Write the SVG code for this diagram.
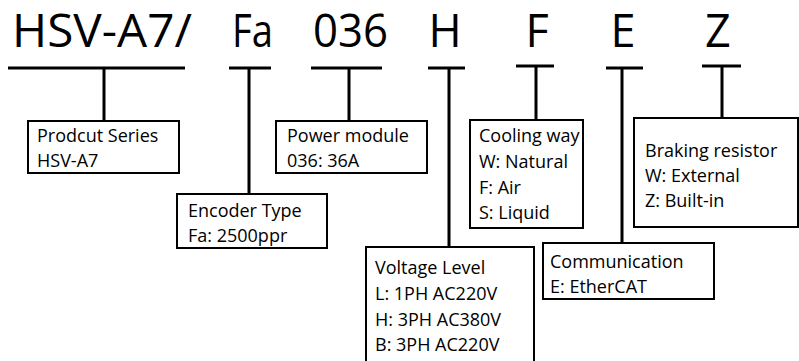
<svg xmlns="http://www.w3.org/2000/svg" width="799" height="361" viewBox="0 0 799 361">
<style>
.big{font-family:"Open Sans","Liberation Sans",sans-serif;font-size:45px;fill:#000}
.t{font-family:"Open Sans","Liberation Sans",sans-serif;font-size:18px;fill:#000}
.box{fill:#fff;stroke:#000;stroke-width:2}
.ln{stroke:#000;stroke-width:3;fill:none}
</style>
<rect width="799" height="361" fill="#fff"/>
<g id="code">
<text class="big" x="12" y="47" textLength="180" lengthAdjust="spacingAndGlyphs">HSV-A7/</text>
<text class="big" x="232" y="47" textLength="41" lengthAdjust="spacingAndGlyphs">Fa</text>
<text class="big" x="313" y="47" textLength="75" lengthAdjust="spacingAndGlyphs">036</text>
<text class="big" x="445" y="47" text-anchor="middle">H</text>
<text class="big" x="537" y="47" text-anchor="middle">F</text>
<text class="big" x="623" y="47" text-anchor="middle">E</text>
<text class="big" x="718" y="47" text-anchor="middle">Z</text>
</g>
<g id="connectors">
<path class="ln" d="M8,68H185M104,68V121"/>
<path class="ln" d="M229,68H271M249,68V194"/>
<path class="ln" d="M311,68H382M349,68V121"/>
<path class="ln" d="M428,68H465M449,68V247"/>
<path class="ln" d="M516,66H554M536,66V120"/>
<path class="ln" d="M606,68H643M622,68V243"/>
<path class="ln" d="M702,66H741M722,66V118"/>
</g>
<g id="series">
<rect class="box" x="28" y="121" width="151" height="52"/>
<text class="t" x="37" y="142">Prodcut Series</text>
<text class="t" x="37" y="167">HSV-A7</text>
</g>
<g id="encoder">
<rect class="box" x="177" y="194" width="150" height="54"/>
<text class="t" x="188" y="217">Encoder Type</text>
<text class="t" x="188" y="242">Fa: 2500ppr</text>
</g>
<g id="power">
<rect class="box" x="276" y="121" width="151" height="52"/>
<text class="t" x="287" y="142">Power module</text>
<text class="t" x="287" y="167">036: 36A</text>
</g>
<g id="voltage">
<rect class="box" x="366" y="247" width="168" height="120"/>
<text class="t" x="375" y="274">Voltage Level</text>
<text class="t" x="375" y="300">L: 1PH AC220V</text>
<text class="t" x="375" y="326">H: 3PH AC380V</text>
<text class="t" x="375" y="351">B: 3PH AC220V</text>
</g>
<g id="cooling">
<rect class="box" x="470" y="120" width="113" height="108"/>
<text class="t" x="479" y="142">Cooling way</text>
<text class="t" x="479" y="168">W: Natural</text>
<text class="t" x="479" y="194">F: Air</text>
<text class="t" x="479" y="219">S: Liquid</text>
</g>
<g id="communication">
<rect class="box" x="543" y="243" width="171" height="56"/>
<text class="t" x="550" y="268">Communication</text>
<text class="t" x="550" y="293">E: EtherCAT</text>
</g>
<g id="braking">
<rect class="box" x="634" y="118" width="164" height="109"/>
<text class="t" x="645" y="157">Braking resistor</text>
<text class="t" x="645" y="182">W: External</text>
<text class="t" x="645" y="207">Z: Built-in</text>
</g>
</svg>
